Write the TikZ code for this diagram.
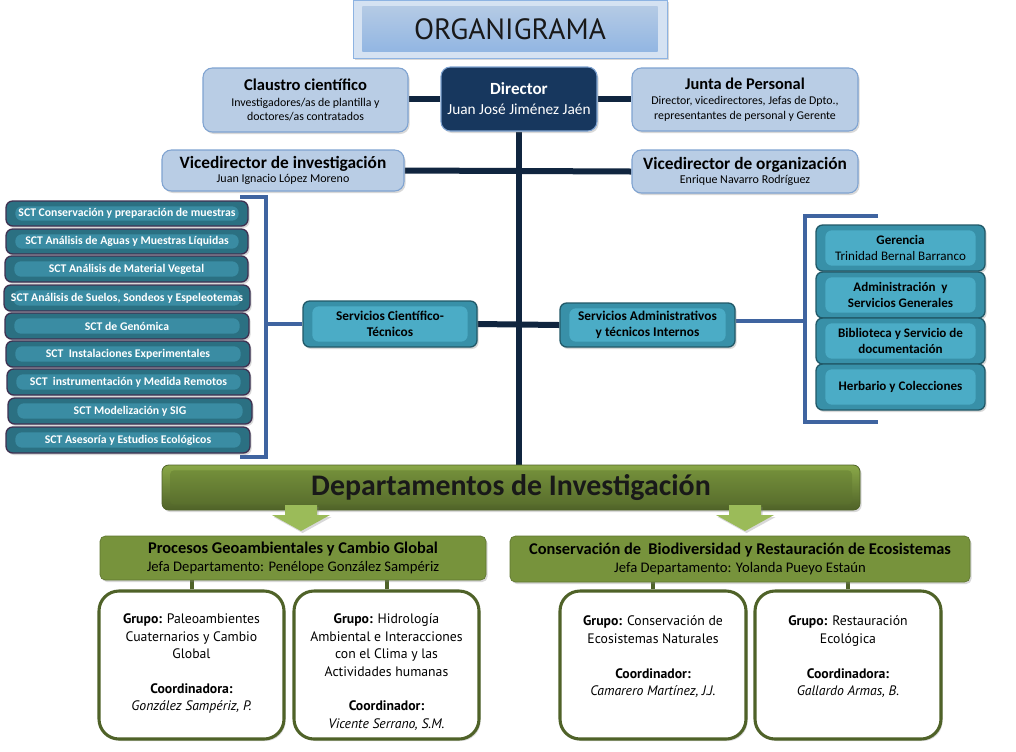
\documentclass[tikz,border=0pt]{standalone}
\usepackage{fontspec}
\setmainfont{Carlito}
\newfontfamily\gill{PT Sans}
\usetikzlibrary{shadows,calc}
\pgfdeclarelayer{bg}
\pgfsetlayers{bg,main}
\definecolor{lblue}{HTML}{B9CDE5}
\definecolor{lblueb}{HTML}{7FA3D1}
\definecolor{navyc}{HTML}{17375E}
\definecolor{navyl}{HTML}{10253F}
\definecolor{tealc}{HTML}{3890A8}
\definecolor{teall}{HTML}{4BACC6}
\definecolor{tealb}{HTML}{215968}
\definecolor{sctc}{HTML}{2B7082}
\definecolor{sctl}{HTML}{3A8CA3}
\definecolor{sctb}{HTML}{3F3151}
\definecolor{brk}{HTML}{3F64A0}
\definecolor{olivec}{HTML}{77933C}
\definecolor{oliveL}{HTML}{8AA848}
\definecolor{oliveD}{HTML}{4F6228}
\definecolor{lgreen}{HTML}{9BBB59}
\definecolor{ttop}{HTML}{D5E2F2}
\definecolor{tbot}{HTML}{8DB3E2}
\newcommand\fsz[2]{\fontsize{#1}{#2}\selectfont}
\newcommand\bx[7]{\node[#6,minimum width={(#4-#2)*0.75pt},minimum height={(#5-#3)*0.75pt}] (#1) at ({(#2+#4)/2},{(#3+#5)/2}) {#7};}
\tikzset{
  shad/.style={drop shadow={opacity=0.3,shadow xshift=1.2pt,shadow yshift=-1.5pt}},
  basebox/.style={inner sep=0pt,align=center},
  lb/.style={basebox,rounded corners=7pt,fill=lblue,draw=lblueb,line width=0.8pt,shad,font=\fsz{8.9}{10.8}},
  dirbox/.style={basebox,rounded corners=7pt,fill=navyc,draw=lblueb,line width=0.8pt,text=white,shad},
  tealbox/.style={basebox,rounded corners=5pt,fill=tealc,draw=tealb,line width=1pt,shad,
    path picture={\fill[teall] ($(path picture bounding box.north west)+(7pt,-4pt)$) rectangle ($(path picture bounding box.south east)+(-7pt,4pt)$);}},
  sct/.style={basebox,rounded corners=5pt,fill=sctc,draw=sctb,line width=1pt,shad,text=white,font=\bfseries\fsz{8.8}{10},
    path picture={\fill[sctl] ($(path picture bounding box.north west)+(7pt,-4pt)$) rectangle ($(path picture bounding box.south east)+(-7pt,4pt)$);}},
  svc/.style={tealbox,text=black,font=\bfseries\fsz{10}{11.8}},
  rbox/.style={tealbox,text=black,font=\bfseries\fsz{9.8}{12}},
  titlebox/.style={basebox,fill=ttop,draw=tbot,line width=0.6pt,shad,
    path picture={\shade[top color=lblue,bottom color=tbot] ($(path picture bounding box.north west)+(7pt,-5pt)$) rectangle ($(path picture bounding box.south east)+(-7pt,5pt)$);}},
  bigdept/.style={basebox,rounded corners=5pt,top color=oliveL,bottom color=oliveD,draw=oliveD,line width=0.6pt,shad,
    path picture={\shade[top color=olivec,bottom color=oliveD!85!olivec,rounded corners=3pt] ($(path picture bounding box.north west)+(6pt,-4pt)$) rectangle ($(path picture bounding box.south east)+(-6pt,4pt)$);}},
  dept/.style={basebox,rounded corners=4pt,fill=olivec,draw=olivec!80!black,line width=0.5pt,shad,font=\fsz{11}{13}},
  gr/.style={basebox,rounded corners=15pt,fill=white,draw=oliveD,line width=2.3pt,shad},
  grtext/.style={inner sep=0pt,align=center,anchor=north,font=\gill\fsz{10.3}{13.1}},
  navyline/.style={draw=navyl,line width=4.5pt},
  brkline/.style={draw=brk,line width=2.4pt},
  gline/.style={draw=oliveD,line width=3pt},
  garrow/.style={fill=lgreen,shad}
}
\begin{document}
\begin{tikzpicture}[x=0.75pt,y=-0.75pt]
\useasboundingbox (0,0) rectangle (1016,751);
% title
\bx{title}{353}{0}{667}{58}{titlebox}{\gill\fsz{22}{24}\color{black!90}\raisebox{-4pt}{ORGANIGRAMA}}
% top boxes
\bx{claustro}{203}{68}{408}{132}{lb}{{\fsz{12.4}{13}\bfseries Claustro científico}\\[1pt]Investigadores/as de plantilla y\\doctores/as contratados}
\bx{director}{441}{67}{597}{131}{dirbox}{{\fsz{12.8}{13}\bfseries Director}\\[3pt]{\fsz{11.5}{13}Juan José Jiménez Jaén}}
\bx{junta}{632}{68}{858}{131}{lb}{{\fsz{12.3}{13}\bfseries Junta de Personal}\\[1pt]Director, vicedirectores, Jefas de Dpto.,\\representantes de personal y Gerente}
\bx{viceinv}{162}{150}{404}{191}{lb}{{\fsz{13}{14}\bfseries Vicedirector de investigación}\\{\fsz{9}{11}Juan Ignacio López Moreno}}
\bx{viceorg}{632}{150}{858}{193}{lb}{{\fsz{13}{14}\bfseries Vicedirector de organización}\\{\fsz{9}{11}Enrique Navarro Rodríguez}}
% SCT list
\bx{s1}{6}{201}{248}{226}{sct}{SCT Conservación y preparación de muestras}
\bx{s2}{6}{229}{248}{254}{sct}{SCT Análisis de Aguas y Muestras Líquidas}
\bx{s3}{5}{256}{248}{282}{sct}{SCT Análisis de Material Vegetal}
\bx{s4}{4}{285}{250}{311}{sct}{SCT Análisis de Suelos, Sondeos y Espeleotemas}
\bx{s5}{5}{313}{249}{339}{sct}{SCT de Genómica}
\bx{s6}{6}{341}{250}{367}{sct}{SCT~ Instalaciones Experimentales}
\bx{s7}{7}{369}{250}{395}{sct}{SCT~ instrumentación y Medida Remotos}
\bx{s8}{8}{398}{252}{424}{sct}{SCT Modelización y SIG}
\bx{s9}{6}{427}{250}{453}{sct}{SCT Asesoría y Estudios Ecológicos}
% services
\bx{sct}{303}{301}{477}{347}{svc}{Servicios Científico-\\Técnicos}
\bx{sadm}{560}{303}{735}{347}{svc}{Servicios Administrativos\\y técnicos Internos}
% right boxes
\bx{ger}{816}{225}{985}{271}{rbox}{Gerencia\\{\mdseries Trinidad Bernal Barranco}}
\bx{adm}{816}{272}{985}{318}{rbox}{Administración~ y\\Servicios Generales}
\bx{bib}{816}{318}{985}{364}{rbox}{Biblioteca y Servicio de\\documentación}
\bx{her}{816}{364}{985}{410}{rbox}{Herbario y Colecciones}
% departments
\bx{deps}{162}{465}{860}{510}{bigdept}{\bfseries\fsz{22.4}{24}\color{black!90}\raisebox{3pt}{Departamentos de Investigación}}
\fill[garrow] (285,505) -- (317,505) -- (317,515) -- (330,515) -- (301,531) -- (272,515) -- (285,515) -- cycle;
\fill[garrow] (729,505) -- (761,505) -- (761,515) -- (774,515) -- (745,531) -- (716,515) -- (729,515) -- cycle;
\bx{dep1}{100}{536}{486}{580}{dept}{{\bfseries\fsz{12.3}{13}Procesos Geoambientales y Cambio Global}\\Jefa Departamento: Penélope González Sampériz}
\bx{dep2}{510}{536}{970}{582}{dept}{{\bfseries\fsz{12.3}{13}Conservación de~ Biodiversidad y Restauración de Ecosistemas}\\Jefa Departamento: Yolanda Pueyo Estaún}
% groups
\bx{g1}{99}{591}{284}{739}{gr}{}
\bx{g2}{294}{591}{479}{739}{gr}{}
\bx{g3}{560}{591}{746}{739}{gr}{}
\bx{g4}{755}{591}{941}{739}{gr}{}
\node[grtext] (g1t) at ([yshift=-18pt]g1.north) {{\bfseries Grupo:} Paleoambientes\\Cuaternarios y Cambio\\Global\\[13.1pt]{\bfseries Coordinadora:}\\{\itshape González Sampériz, P.}};
\node[grtext] (g2t) at ([yshift=-18pt]g2.north) {{\bfseries Grupo:} Hidrología\\Ambiental e Interacciones\\con el Clima y las\\Actividades humanas\\[13.1pt]{\bfseries Coordinador:}\\{\itshape Vicente Serrano, S.M.}};
\node[grtext] (g3t) at ([yshift=-19.5pt]g3.north) {{\bfseries Grupo:} Conservación de\\Ecosistemas Naturales\\[13.1pt]{\bfseries Coordinador:}\\{\itshape Camarero Martínez, J.J.}};
\node[grtext] (g4t) at ([yshift=-19.5pt]g4.north) {{\bfseries Grupo:} Restauración\\Ecológica\\[13.1pt]{\bfseries Coordinadora:}\\{\itshape Gallardo Armas, B.}};
% bracket coordinates
\coordinate (lbt) at (240,197);
\coordinate (lbv) at (266,197);
\coordinate (lbb) at (240,457);
\coordinate (rbt) at (878,216);
\coordinate (rbv) at (805,216);
\coordinate (rbb) at (878,422);
\begin{pgfonlayer}{bg}
\fill[white] (0,0) rectangle (1016,751);
\draw[navyline] (director.south) -- (director.south |- deps.north);
\draw[navyline] (director.west) -- (director.west -| claustro.east);
\draw[navyline] (director.east) -- (director.east -| junta.west);
\draw[navyline] (viceinv.east) -- (viceorg.west);
\draw[navyline] (sct.east) -- (sadm.west);
\draw[brkline] (lbt) -- (lbv) -- (lbv |- lbb) -- (lbb);
\draw[brkline] (sct.west) -- (sct.west -| lbv);
\draw[brkline] (rbt) -- (rbv) -- (rbv |- rbb) -- (rbb);
\draw[brkline] ([yshift=3pt]sadm.east) -- ([yshift=3pt]sadm.east -| rbv);
\draw[gline] (g1.north) -- (g1.north |- dep1.south);
\draw[gline] (g2.north) -- (g2.north |- dep1.south);
\draw[gline] (g3.north) -- (g3.north |- dep2.south);
\draw[gline] (g4.north) -- (g4.north |- dep2.south);
\end{pgfonlayer}
\end{tikzpicture}
\end{document}
